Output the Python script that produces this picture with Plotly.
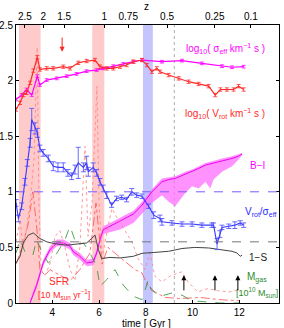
import plotly.graph_objects as go

# ---------------- data ----------------
T_RANGE = [2.447, 13.70]
Y_RANGE = [0, 2.5]

# log10(sigma_eff)
t_sig = [2.45, 2.69, 2.90, 3.12, 3.36, 3.47, 3.76, 4.19, 4.62, 5.04, 5.47, 5.90, 6.18, 6.61,
         7.04, 7.47, 7.84, 8.69, 9.55, 10.40, 11.26, 11.69, 12.19]
sig = [1.83, 1.87, 1.92, 1.87, 2.04, 1.96, 2.005, 2.02, 2.04, 2.06, 2.085, 2.095, 2.11, 2.13,
       2.15, 2.17, 2.185, 2.17, 2.18, 2.155, 2.13, 2.12, 2.125]

# log10(V_rot)
t_vrot = [2.45, 2.62, 2.76, 2.90, 3.05, 3.19, 3.36, 3.47, 3.76, 4.04, 4.47, 4.76, 5.11, 5.47,
          5.83, 6.04, 6.33, 6.61, 6.90, 7.18, 7.47, 7.84, 8.05, 8.26, 8.47, 8.61, 8.98, 9.41,
          9.83, 10.26, 10.69, 10.97, 11.19, 11.47, 11.76, 11.97, 12.19]
vrot = [1.74, 1.80, 1.87, 1.89, 1.98, 2.09, 2.21, 2.10, 2.11, 2.11, 2.125, 2.11, 2.16, 2.176,
        2.185, 2.125, 2.11, 2.11, 2.125, 2.14, 2.17, 2.185, 2.14, 2.08, 2.11, 2.08, 2.05, 2.02,
        1.99, 1.97, 1.95, 1.87, 1.92, 1.92, 1.92, 1.95, 1.92]

# V_rot / sigma_eff
t_vs = [2.45, 2.55, 2.69, 2.83, 2.93, 3.05, 3.12, 3.26, 3.36, 3.47, 3.61, 3.83, 4.04, 4.24,
        4.47, 4.67, 4.83, 4.97, 5.11, 5.33, 5.47, 5.54, 5.75, 5.90, 6.04, 6.18, 6.33, 6.54,
        6.75, 6.97, 7.18, 7.40, 7.61, 7.84, 8.12, 8.34, 8.61, 8.69, 9.12, 9.55, 9.98, 10.40,
        10.83, 10.90, 11.05, 11.17, 11.26, 11.55, 11.81, 12.04, 12.19]
vs = [0.90, 0.76, 0.87, 1.09, 1.26, 1.44, 1.65, 1.57, 1.53, 1.39, 1.35, 1.30, 1.23, 1.22,
      1.22, 1.17, 1.14, 1.20, 1.26, 1.22, 1.26, 1.18, 1.22, 1.17, 1.09, 1.03, 0.97, 0.88,
      0.94, 0.95, 0.93, 1.00, 0.97, 0.96, 0.87, 0.79, 0.76, 0.73, 0.72, 0.71, 0.71, 0.70,
      0.70, 0.70, 0.53, 0.62, 0.68, 0.69, 0.70, 0.72, 0.70]
vs_err = [0.03, 0.03, 0.03, 0.03, 0.03, 0.04, 0.10, 0.05, 0.04, 0.03, 0.03, 0.03, 0.04, 0.04,
          0.04, 0.03, 0.03, 0.04, 0.14, 0.04, 0.06, 0.04, 0.04, 0.03, 0.03, 0.03, 0.03, 0.02,
          0.02, 0.02, 0.02, 0.03, 0.02, 0.02, 0.02, 0.03, 0.03, 0.03, 0.02, 0.02, 0.02, 0.02,
          0.02, 0.02, 0.05, 0.03, 0.02, 0.02, 0.03, 0.02, 0.02]

# 1 - S
t_s = [2.45, 2.62, 2.76, 2.97, 3.19, 3.47, 3.76, 4.19, 4.62, 5.04, 5.47, 5.68, 5.83, 5.97,
       6.11, 6.47, 6.90, 7.47, 7.84, 8.39, 8.98, 9.55, 10.10, 10.69, 11.26, 11.69, 11.90,
       12.04, 12.12]
one_minus_s = [0.36, 0.42, 0.54, 0.61, 0.63, 0.58, 0.55, 0.53, 0.52, 0.53, 0.54, 0.58, 0.61,
               0.48, 0.40, 0.41, 0.405, 0.42, 0.447, 0.455, 0.465, 0.49, 0.50, 0.495, 0.475,
               0.465, 0.45, 0.42, 0.43]

# B - I colour (line and spread)
t_bi = [3.05, 3.33, 3.61, 3.90, 4.19, 4.47, 4.76, 4.90, 5.18, 5.47, 5.75, 5.90, 6.04, 6.18,
        6.47, 6.90, 7.47, 7.84, 8.26, 8.69, 8.98, 9.26, 9.48, 9.69, 9.98, 10.26, 10.55, 10.76,
        10.90, 11.26, 11.69, 11.97, 12.12]
bi = [0.00, 0.16, 0.36, 0.48, 0.54, 0.54, 0.51, 0.46, 0.42, 0.36, 0.37, 0.45, 0.57, 0.66,
      0.69, 0.74, 0.80, 0.88, 1.00, 1.09, 1.11, 1.12, 1.14, 1.16, 1.18, 1.21, 1.24, 1.25,
      1.26, 1.28, 1.30, 1.32, 1.34]
bi_hi = [0.03, 0.19, 0.39, 0.51, 0.57, 0.57, 0.54, 0.49, 0.45, 0.39, 0.40, 0.48, 0.60, 0.69,
         0.72, 0.77, 0.83, 0.91, 1.02, 1.12, 1.13, 1.14, 1.16, 1.18, 1.20, 1.23, 1.26, 1.27,
         1.28, 1.30, 1.32, 1.34, 1.35]
bi_lo = [0.00, 0.13, 0.33, 0.45, 0.51, 0.51, 0.48, 0.43, 0.39, 0.33, 0.34, 0.42, 0.54, 0.62,
         0.64, 0.66, 0.72, 0.80, 0.90, 0.97, 0.91, 0.87, 0.93, 0.99, 1.05, 1.03, 1.09, 1.03,
         1.11, 1.18, 1.23, 1.29, 1.33]

# SFR [10 Msun/yr] (red dotted)
t_sfr = [2.45, 2.62, 2.75, 2.92, 3.05, 3.22, 3.35, 3.43, 3.52, 3.69, 3.90, 4.12, 4.33, 4.54,
         4.76, 4.97, 5.18, 5.40, 5.53, 5.70, 5.91, 6.00, 6.13, 6.30, 6.55, 6.81, 7.11, 7.41,
         7.67, 7.97, 8.18, 8.39, 8.69, 9.03, 9.38, 9.55, 9.81, 10.23, 10.66, 11.09, 11.60, 12.03]
sfr = [0.55, 0.75, 0.50, 0.70, 0.90, 1.30, 2.30, 0.90, 0.30, 0.25, 0.35, 0.60, 0.65, 0.50,
       0.30, 0.20, 0.50, 1.41, 0.60, 0.90, 1.95, 0.90, 0.40, 0.60, 0.85, 0.75, 0.65, 0.55,
       0.40, 0.30, 0.45, 0.24, 0.19, 0.24, 0.27, 0.28, 0.19, 0.10, 0.13, 0.11, 0.10, 0.12]

# second red (dash-dot) curve
t_dd = [2.45, 2.70, 2.96, 3.17, 3.30, 3.39, 3.47, 3.69, 3.90, 4.33, 4.76, 5.18, 5.61, 5.87,
        6.00, 6.13, 6.38, 6.68, 7.11, 7.54, 7.84, 8.05, 8.39, 8.82, 9.46, 10.32, 11.17, 12.03]
dd = [0.35, 0.50, 0.70, 1.00, 0.75, 0.55, 0.30, 0.25, 0.30, 0.25, 0.20, 0.30, 0.45, 0.90,
      0.65, 0.35, 0.50, 0.45, 0.38, 0.30, 0.27, 0.17, 0.10, 0.05, 0.04, 0.05, 0.03, 0.02]

# M_gas [1e10 Msun] (green dashed)
t_gas = [2.45, 2.62, 2.83, 3.00, 3.17, 3.33, 3.55, 3.83, 4.12, 4.33, 4.54, 4.76, 5.04, 5.33,
         5.61, 5.90, 6.04, 6.33, 6.68, 7.04, 7.47, 7.84, 8.11, 8.22, 8.61, 9.12, 9.55, 9.98,
         10.53, 11.17, 12.03]
gas = [0.45, 0.57, 0.46, 0.44, 0.43, 0.57, 0.46, 0.36, 0.42, 0.50, 0.57, 0.69, 0.52, 0.54,
       0.45, 0.33, 0.15, 0.21, 0.30, 0.16, 0.06, 0.03, 0.21, 0.12, 0.06, 0.09, 0.07, 0.02,
       0.01, 0.00, 0.00]

# redshift axis
z_tick_t = [2.83, 3.61, 4.51, 6.22, 7.25, 8.91, 10.95, 12.50]
z_tick_text = ["2.5", "2", "1.5", "1", "0.75", "0.5", "0.25", "0.1"]

# time windows
pink_bands = [(2.575, 3.50), (5.71, 6.225)]
blue_bands = [(7.88, 8.30)]
vlines_dotted = [9.22]
hlines = [(1.0, "#7a5cff"), (0.55, "#777777")]

# arrows: (time, tail value, head value)
red_arrows = [(4.42, 2.40, 2.26)]
black_arrows = [(9.63, 0.10, 0.25), (10.96, 0.10, 0.25), (11.94, 0.10, 0.25)]

FONT = "Liberation Sans, Arial, Helvetica, sans-serif"
RED = "#ff2a2a"
MAG = "#ff00ff"
BLUE = "#3a3aff"
GREEN = "#2e8b2e"

fig = go.Figure()

# B-I band
fig.add_trace(go.Scatter(x=t_bi + t_bi[::-1], y=bi_hi + bi_lo[::-1], fill="toself",
                         fillcolor="rgba(255,110,255,0.75)", line=dict(width=0),
                         mode="lines", hoverinfo="skip", showlegend=False))
fig.add_trace(go.Scatter(x=t_bi, y=bi, mode="lines", line=dict(color="#f000f0", width=1),
                         showlegend=False))

# thin lines
fig.add_trace(go.Scatter(x=t_sfr, y=sfr, mode="lines",
                         line=dict(color="#ff8080", width=0.8, dash="dot"), showlegend=False))
fig.add_trace(go.Scatter(x=t_dd, y=dd, mode="lines",
                         line=dict(color="#ff5050", width=0.8, dash="dashdot"), showlegend=False))
fig.add_trace(go.Scatter(x=t_gas, y=gas, mode="lines",
                         line=dict(color=GREEN, width=0.8, dash="dash"), showlegend=False))

# 1-S
fig.add_trace(go.Scatter(x=t_s, y=one_minus_s, mode="lines",
                         line=dict(color="#444444", width=1), showlegend=False))

# V/sigma
fig.add_trace(go.Scatter(x=t_vs, y=vs, mode="lines", line=dict(color=BLUE, width=1.1),
                         error_y=dict(type="data", array=vs_err, color="#5a5aff",
                                      thickness=0.9, width=2.5),
                         showlegend=False))

# log sigma, log Vrot
fig.add_trace(go.Scatter(x=t_sig, y=sig, mode="lines", line=dict(color=MAG, width=1.2),
                         error_y=dict(type="constant", value=0.012, color=MAG,
                                      thickness=0.8, width=2),
                         showlegend=False))
fig.add_trace(go.Scatter(x=t_vrot, y=vrot, mode="lines", line=dict(color=RED, width=1.2),
                         error_y=dict(type="constant", value=0.015, color=RED,
                                      thickness=0.8, width=2),
                         showlegend=False))

# invisible trace to carry the redshift axis
fig.add_trace(go.Scatter(x=z_tick_t, y=[0] * len(z_tick_t), xaxis="x2", mode="markers",
                         marker=dict(opacity=0), hoverinfo="skip", showlegend=False))

shapes = []
for a, b in pink_bands:
    shapes.append(dict(type="rect", xref="x", yref="paper", x0=a, x1=b, y0=0, y1=1,
                       fillcolor="#ffcaca", line=dict(width=0), layer="below"))
for a, b in blue_bands:
    shapes.append(dict(type="rect", xref="x", yref="paper", x0=a, x1=b, y0=0, y1=1,
                       fillcolor="#c4c4ff", line=dict(width=0), layer="below"))
for v in vlines_dotted:
    shapes.append(dict(type="line", xref="x", yref="paper", x0=v, x1=v, y0=0, y1=1,
                       line=dict(color="#aaaaaa", width=1, dash="dot"), layer="below"))
for yv, col in hlines:
    shapes.append(dict(type="line", xref="paper", yref="y", x0=0, x1=1, y0=yv, y1=yv,
                       line=dict(color=col, width=1, dash="dash")))

ann = []
def label(text, x, y, color, size=10):
    ann.append(dict(text=text, x=x, y=y, xref="x", yref="y", showarrow=False,
                    font=dict(color=color, size=size, family=FONT),
                    xanchor="center", yanchor="middle"))

label("log<sub>10</sub>( σ<sub>eff</sub> km<sup>−1</sup> s )", 11.40, 2.285, MAG)
label("log<sub>10</sub>( V<sub>rot</sub> km<sup>−1</sup> s )", 11.40, 1.70, RED)
label("B−I", 12.80, 1.24, MAG)
label("V<sub>rot</sub>/σ<sub>eff</sub>", 12.93, 0.82, "#2a2aff")
label("1−S", 12.80, 0.41, "#222222")
label("M<sub>gas</sub>", 12.75, 0.225, GREEN)
label("[10<sup>10</sup> M<sub>sun</sub>]", 12.77, 0.09, GREEN, 9)
label("SFR", 4.29, 0.19, RED)
label("[10 M<sub>sun</sub> yr<sup>−1</sup>]", 4.50, 0.08, RED, 9)

for x, y0, y1 in red_arrows:
    ann.append(dict(x=x, y=y1, ax=x, ay=y0, xref="x", yref="y", axref="x", ayref="y",
                    showarrow=True, arrowhead=2, arrowsize=1, arrowwidth=1,
                    arrowcolor="#ff2020", text=""))
for x, y0, y1 in black_arrows:
    ann.append(dict(x=x, y=y1, ax=x, ay=y0, xref="x", yref="y", axref="x", ayref="y",
                    showarrow=True, arrowhead=2, arrowsize=1, arrowwidth=1,
                    arrowcolor="#000000", text=""))

ann.append(dict(text="time [ Gyr ]", x=0.498, y=-0.075, xref="paper", yref="paper",
                showarrow=False, xanchor="center", yanchor="middle",
                font=dict(size=10, family=FONT, color="#000")))
ann.append(dict(text="z", x=0.498, y=1.065, xref="paper", yref="paper",
                showarrow=False, xanchor="center", yanchor="middle",
                font=dict(size=10, family=FONT, color="#000")))

axis_common = dict(showgrid=False, zeroline=False, linecolor="#000", linewidth=1,
                   ticks="inside", ticklen=3, tickcolor="#000",
                   tickfont=dict(size=10, family=FONT, color="#000"), automargin=False)

fig.update_layout(
    width=284, height=328,
    margin=dict(l=16, r=5, t=25, b=25),
    plot_bgcolor="white", paper_bgcolor="white",
    showlegend=False,
    shapes=shapes, annotations=ann,
    xaxis=dict(range=T_RANGE, tickvals=[4, 6, 8, 10, 12], showline=True, mirror=False,
               **axis_common),
    xaxis2=dict(range=T_RANGE, overlaying="x", side="top", tickvals=z_tick_t,
                ticktext=z_tick_text, showline=True, **axis_common),
    yaxis=dict(range=Y_RANGE, tickvals=[0, 0.5, 1, 1.5, 2, 2.5],
               ticktext=["0", "0.5", "1", "1.5", "2", "2.5"], showline=True,
               mirror="ticks", **axis_common),
)

fig.write_html("out.html", config={"displayModeBar": False},
               post_script="document.body.style.margin='0';document.body.style.padding='0';")
